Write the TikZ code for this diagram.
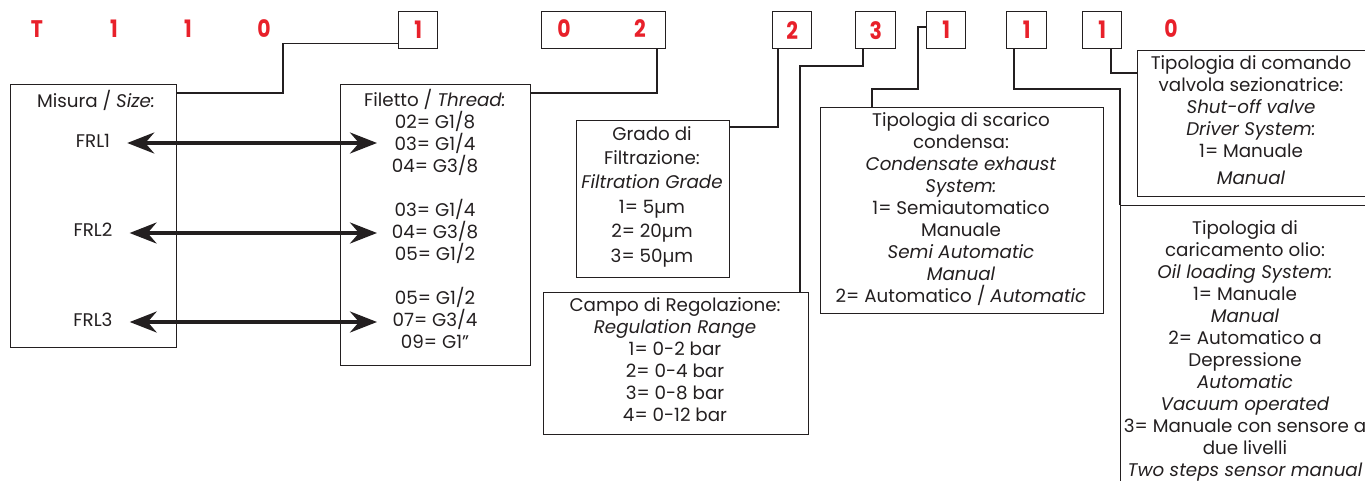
\documentclass[tikz,border=0pt]{standalone}
\usepackage{fontspec}
\setmainfont{Poppins}
\newfontfamily\codefont{Poppins}[FakeStretch=0.85]
\usetikzlibrary{arrows.meta}
\definecolor{codered}{HTML}{E8202A}
\definecolor{ink}{HTML}{231F20}
\begin{document}
\begin{tikzpicture}[x=1pt,y=-1pt,
  box/.style={draw=ink,line width=1.4pt,anchor=north west,inner sep=0pt},
  codebox/.style={box,minimum width=39pt,minimum height=37pt,text=codered,font=\codefont\fontsize{24}{24}\selectfont\bfseries},
  conn/.style={draw=ink,line width=1.4pt},
  code/.style={text=codered,font=\codefont\fontsize{24}{24}\selectfont\bfseries,inner sep=0pt},
  txt/.style={text=ink,font=\fontsize{18.3}{22}\selectfont,align=center,inner sep=0pt,anchor=north},
  dbl/.style={draw=ink,line width=3.5pt,{Stealth[length=27pt,width=21pt,inset=9pt]}-{Stealth[length=27pt,width=21pt,inset=9pt]}}]
\useasboundingbox (0,0) rectangle (1365,481);
\clip (0,0) rectangle (1365,481);
% code letters
\node[code] (cT) at (37,29) {T};
\node[code] (c1) at (114,29) {1};
\node[code] (c2) at (188,29) {1};
\node[code] (c3) at (264,29) {0};
\node[codebox] (b1) at (398,11) {1};
\node[box,minimum width=124pt,minimum height=37pt] (b02) at (541,11) {};
\node[code] (c02a) at (564,29) {0};
\node[code] (c02b) at (640,29) {2};
\node[codebox] (b2) at (772,11) {2};
\node[codebox,minimum width=40pt] (b3) at (855,11) {3};
\node[codebox] (b4) at (926,11) {1};
\node[codebox,minimum width=40pt] (b5) at (1006,11) {1};
\node[codebox] (b6) at (1082,11) {1};
\node[code] (c0) at (1171,29) {0};
% description boxes
\node[box,minimum width=166pt,minimum height=263pt] (mis) at (10,84) {};
\node[box,minimum width=190pt,minimum height=281pt] (fil) at (340,84) {};
\node[box,minimum width=153pt,minimum height=157pt] (gra) at (576,120) {};
\node[box,minimum width=265pt,minimum height=142pt] (cam) at (543,292) {};
\node[box,minimum width=283pt,minimum height=206pt] (con) at (820,107) {};
\node[box,minimum width=232pt,minimum height=146pt] (val) at (1137,50) {};
\node[box,minimum width=280pt,minimum height=320pt] (oil) at (1120,205) {};
% texts
\node[txt] (tmis) at (96,90) {Misura / \textit{Size:}};
\node[txt] (f1) at (93,134) {FRL1};
\node[txt] (f2) at (93,223) {FRL2};
\node[txt] (f3) at (93,313) {FRL3};
\node[txt] (tfil) at (435,89) {Filetto / \textit{Thread:}\\02= G1/8\\03= G1/4\\04= G3/8\\[22pt]03= G1/4\\04= G3/8\\05= G1/2\\[22pt]05= G1/2\\07= G3/4\\09= G1”};
\node[txt,font=\fontsize{18.3}{24.4}\selectfont] (tgra) at (652,126) {Grado di\\Filtrazione:\\\textit{Filtration Grade}\\1= 5µm\\2= 20µm\\3= 50µm};
\node[txt] (tcam) at (675,297) {Campo di Regolazione:\\\textit{Regulation Range}\\1= 0-2 bar\\2= 0-4 bar\\3= 0-8 bar\\4= 0-12 bar};
\node[txt] (tcon) at (961,112) {Tipologia di scarico\\condensa:\\\textit{Condensate exhaust}\\\textit{System:}\\1= Semiautomatico\\Manuale\\\textit{Semi Automatic}\\\textit{Manual}\\2= Automatico / \textit{Automatic}};
\node[txt] (tval) at (1251,55) {Tipologia di comando\\valvola sezionatrice:\\\textit{Shut-off valve}\\\textit{Driver System:}\\1= Manuale\\[5pt]\textit{Manual}};
\node[txt] (toil) at (1245,220) {Tipologia di\\caricamento olio:\\\textit{Oil loading System:}\\1= Manuale\\\textit{Manual}\\2= Automatico a\\Depressione\\\textit{Automatic}\\\textit{Vacuum operated}\\3= Manuale con sensore a\\due livelli\\\textit{Two steps sensor manual}};
% arrows
\draw[dbl] (f1.east |- 0,143) ++(17,0) coordinate (a1l) -- (377,143) coordinate (a1r);
\draw[dbl] (f2.east |- 0,233) ++(17,0) coordinate (a2l) -- (377,233) coordinate (a2r);
\draw[dbl] (f3.east |- 0,322) ++(17,0) coordinate (a3l) -- (377,322) coordinate (a3r);
% connectors
\draw[conn] ([yshift=6pt]b1.south west) -| (283,93) -- (mis.east |- 0,93);
\draw[conn] (b02.south -| 657,0) |- (fil.east |- 0,93);
\draw[conn] (b2.south -| 778,0) |- (gra.east |- 0,127);
\draw[conn] (b3.south -| 863,0) |- (800,66) -- (cam.north -| 800,0);
\draw[conn] ([yshift=-16pt]b4.north west) -| (918,89) -| (con.north -| 872,0);
\draw[conn] (b5.south -| 1014,0) |- (1120,89) -- (oil.north west);
\draw[conn] (b6.south -| 1111,0) |- (val.west |- 0,73);
\end{tikzpicture}
\end{document}
